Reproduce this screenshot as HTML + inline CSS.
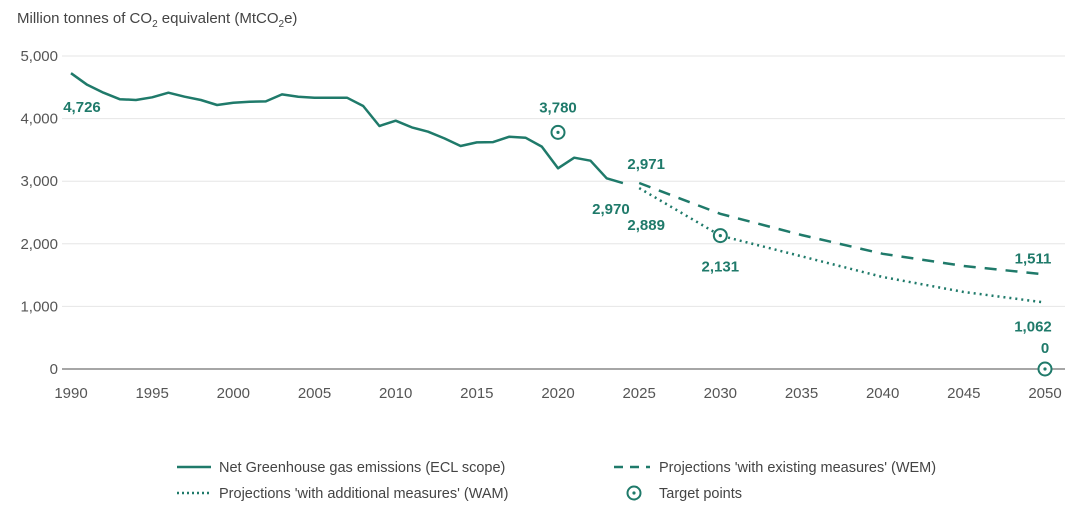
<!DOCTYPE html>
<html><head><meta charset="utf-8"><style>
html,body{margin:0;padding:0;background:#fff;}
svg{display:block;font-family:"Liberation Sans",sans-serif;}
</style></head><body>
<svg id="chart" width="1080" height="511" viewBox="0 0 1080 511" xmlns="http://www.w3.org/2000/svg">
<text x="17" y="23" font-size="15" fill="#444">Million tonnes of CO<tspan font-size="10" dy="4">2</tspan><tspan dy="-4"> equivalent (MtCO</tspan><tspan font-size="10" dy="4">2</tspan><tspan dy="-4">e)</tspan></text>
<g id="grid"></g><g id="axes"></g><g id="series"></g><g id="labels"></g>
<g font-size="14.5" fill="#444">
 <g><line x1="177" y1="467" x2="211" y2="467" stroke="#1f7a6a" stroke-width="2.5"/><text x="219" y="472">Net Greenhouse gas emissions (ECL scope)</text></g>
 <g><line x1="614" y1="467" x2="650" y2="467" stroke="#1f7a6a" stroke-width="2.5" stroke-dasharray="9,7"/><text x="659" y="472">Projections 'with existing measures' (WEM)</text></g>
 <g><line x1="177" y1="493" x2="211" y2="493" stroke="#1f7a6a" stroke-width="2.5" stroke-dasharray="2,3"/><text x="219" y="498">Projections 'with additional measures' (WAM)</text></g>
 <g><circle cx="634" cy="493" r="6.5" fill="none" stroke="#1f7a6a" stroke-width="2"/><circle cx="634" cy="493" r="1.6" fill="#1f7a6a"/><text x="659" y="498">Target points</text></g>
</g>
</svg>
<script>
const histYears=[1990,1991,1992,1993,1994,1995,1996,1997,1998,1999,2000,2001,2002,2003,2004,2005,2006,2007,2008,2009,2010,2011,2012,2013,2014,2015,2016,2017,2018,2019,2020,2021,2022,2023,2024];
const histValues=[4726,4540,4414,4310,4297,4340,4414,4350,4297,4217,4254,4270,4275,4387,4350,4334,4334,4334,4201,3882,3967,3860,3791,3684,3562,3620,3625,3711,3695,3552,3206,3376,3328,3046,2970];
const projYears=[2025,2030,2035,2040,2045,2050];
const wemValues=[2971,2480,2140,1840,1645,1511];
const wamValues=[2889,2131,1800,1470,1230,1062];
const targetYears=[2020,2030,2050];
const targetValues=[3780,2131,0];
const yTicks=[0,1000,2000,3000,4000,5000];
const yTickLabels=["0","1,000","2,000","3,000","4,000","5,000"];
const xTicks=[1990,1995,2000,2005,2010,2015,2020,2025,2030,2035,2040,2045,2050];
const C="#1f7a6a",NS="http://www.w3.org/2000/svg";
const X=y=>71+(y-1990)*(974/60);
const Y=v=>369-v*0.0626;
function mk(tag,attrs,parent,text){const e=document.createElementNS(NS,tag);for(const k in attrs)e.setAttribute(k,attrs[k]);if(text!==undefined)e.textContent=text;document.getElementById(parent).appendChild(e);return e;}
yTicks.forEach((t,i)=>{
 const l=mk('line',{x1:62,x2:1065,y1:Y(t),y2:Y(t),stroke:t===0?'#888':'#e6e6e6','stroke-width':t===0?1.5:1},'grid');
 
 
 const tx=mk('text',{x:58,y:Y(t)+5,'text-anchor':'end','font-size':15,fill:'#555'},'axes',yTickLabels[i]);
 
 
});
xTicks.forEach(t=>{
 const tx=mk('text',{x:X(t),y:398,'text-anchor':'middle','font-size':15,fill:'#555'},'axes',String(t));
 
 
});
const pts=(xs,vs)=>xs.map((x,i)=>X(x).toFixed(1)+','+Y(vs[i]).toFixed(1)).join(' ');
const h=mk('polyline',{points:pts(histYears,histValues),fill:'none',stroke:C,'stroke-width':2.5,'stroke-linejoin':'round'},'series');


const w=mk('polyline',{points:pts(projYears,wemValues),fill:'none',stroke:C,'stroke-width':2.5,'stroke-dasharray':'12,9'},'series');


const a=mk('polyline',{points:pts(projYears,wamValues),fill:'none',stroke:C,'stroke-width':2.5,'stroke-dasharray':'2,4'},'series');


targetYears.forEach((ty,i)=>{
 const c=mk('circle',{cx:X(ty),cy:Y(targetValues[i]),r:6.5,fill:'#fff',stroke:C,'stroke-width':2},'series');
 
 
 mk('circle',{cx:X(ty),cy:Y(targetValues[i]),r:1.6,fill:C},'series');
});
const fmt=v=>v.toLocaleString('en-US');
const lbl=(x,y,t,name)=>{const e=mk('text',{x:x,y:y,'text-anchor':'middle','font-size':15,'font-weight':'bold',fill:C},'labels',t);
 
 };
lbl(X(1990)+11,Y(histValues[0])+39,fmt(histValues[0]),'label-1990');
lbl(X(2020),Y(targetValues[0])-20,fmt(targetValues[0]),'label-target-2020');
lbl(X(2024)-12,Y(histValues[histValues.length-1])+31,fmt(histValues[histValues.length-1]),'label-2024');
lbl(X(2025)+7,Y(wemValues[0])-14,fmt(wemValues[0]),'label-wem-2025');
lbl(X(2025)+7,Y(wamValues[0])+42,fmt(wamValues[0]),'label-wam-2025');
lbl(X(2030),Y(targetValues[1])+36,fmt(targetValues[1]),'label-target-2030');
lbl(X(2050)-12,Y(wemValues[5])-11,fmt(wemValues[5]),'label-wem-2050');
lbl(X(2050)-12,Y(wamValues[5])+29,fmt(wamValues[5]),'label-wam-2050');
lbl(X(2050),Y(targetValues[2])-16,fmt(targetValues[2]),'label-target-2050');
</script>
</body></html>
